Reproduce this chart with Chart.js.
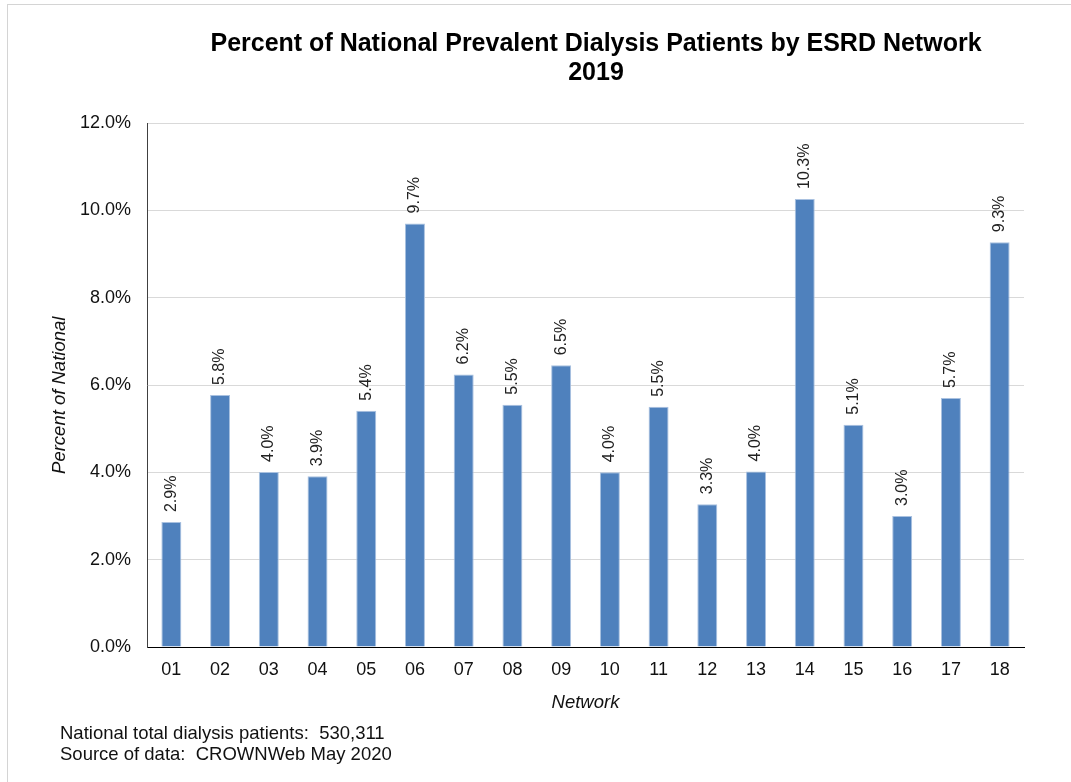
<!DOCTYPE html>
<html>
<head>
<meta charset="utf-8">
<script src="https://cdn.jsdelivr.net/npm/chart.js@4.4.1/dist/chart.umd.min.js"></script>
<style>
  html, body { margin: 0; padding: 0; background: #fff; overflow: hidden; }
  body { width: 1071px; height: 782px; position: relative; font-family: "Liberation Sans", Arial, sans-serif; }
  #frame { position: absolute; left: 7px; top: 4px; right: -10px; bottom: -10px; border-top: 1px solid #d4d4d4; border-left: 1px solid #d4d4d4; }
  #wrap { position: absolute; left: 0; top: 0; width: 1071px; height: 782px; }
  #title { position: absolute; left: 0; width: 1192px; top: 28px; text-align: center; font-weight: bold; font-size: 25px; line-height: 29px; color: #000; }
  #note { position: absolute; left: 60px; top: 722px; font-size: 18.5px; line-height: 21px; color: #111; white-space: pre; }
</style>
</head>
<body>
<div id="frame"></div>
<div id="wrap"><canvas id="chart"></canvas></div>
<div id="title">Percent of National Prevalent Dialysis Patients by ESRD Network<br>2019</div>
<div id="note">National total dialysis patients:  530,311
Source of data:  CROWNWeb May 2020</div>
<script>
// 各 Network 的資料
const networks = ['01','02','03','04','05','06','07','08','09','10','11','12','13','14','15','16','17','18']
const percentNational = [2.86, 5.77, 4.01, 3.91, 5.41, 9.70, 6.24, 5.55, 6.45, 4.00, 5.50, 3.27, 4.02, 10.26, 5.09, 3.00, 5.70, 9.27]
const yTicks = [0, 2, 4, 6, 8, 10, 12]

const FONT = '"Liberation Sans", Arial, sans-serif'

// 在每根 bar 上方畫直的百分比標籤
const barLabels = {
  id: 'barLabels',
  afterDatasetsDraw(chart){
    const ctx = chart.ctx
    const meta = chart.getDatasetMeta(0)
    ctx.save()
    ctx.font = '16px ' + FONT
    ctx.fillStyle = '#222'
    ctx.textAlign = 'left'
    ctx.textBaseline = 'middle'
    meta.data.forEach((bar, i)=>{
      ctx.save()
      ctx.translate(bar.x, bar.y - 10)
      ctx.rotate(-Math.PI / 2)
      ctx.fillText(percentNational[i].toFixed(1) + '%', 0, 0)
      ctx.restore()
    })
    ctx.restore()
  }
}

new Chart(document.getElementById('chart'), {
  type: 'bar',
  data: {
    labels: networks,
    datasets: [{
      data: percentNational,
      backgroundColor: '#4F81BD',
      borderColor: '#A9C1E0',
      borderWidth: { left: 1, right: 1, top: 1, bottom: 0 },
      barPercentage: 0.41,
      categoryPercentage: 1
    }]
  },
  options: {
    responsive: true,
    maintainAspectRatio: false,
    animation: false,
    layout: { padding: { left: 0, right: 47, top: 123, bottom: 65 } },
    plugins: {
      legend: { display: false },
      tooltip: { enabled: false },
      title: { display: false }
    },
    scales: {
      x: {
        grid: { display: false, drawTicks: false },
        border: { display: true, color: '#000', width: 1 },
        ticks: { color: '#111', padding: 12, font: { family: FONT, size: 18 } },
        title: {
          display: true, text: 'Network', color: '#111',
          font: { family: FONT, size: 18.5, style: 'italic' },
          padding: { top: 0, bottom: 3 }
        },
        afterFit(scale){ scale.height = 70 }
      },
      y: {
        min: 0, max: 12,
        afterBuildTicks(scale){ scale.ticks = yTicks.map(v => ({ value: v })) },
        grid: { color: '#D9D9D9', lineWidth: 1, drawTicks: false },
        border: { display: true, color: '#404040', width: 1 },
        ticks: {
          color: '#111', padding: 16,
          font: { family: FONT, size: 18 },
          callback: v => v.toFixed(1) + '%'
        },
        title: {
          display: true, text: 'Percent of National    ', color: '#111',
          font: { family: FONT, size: 18.5, style: 'italic' },
          padding: { top: 49, bottom: 0 }
        },
        afterFit(scale){ scale.width = 147 }
      }
    }
  },
  plugins: [barLabels]
})
</script>
</body>
</html>
